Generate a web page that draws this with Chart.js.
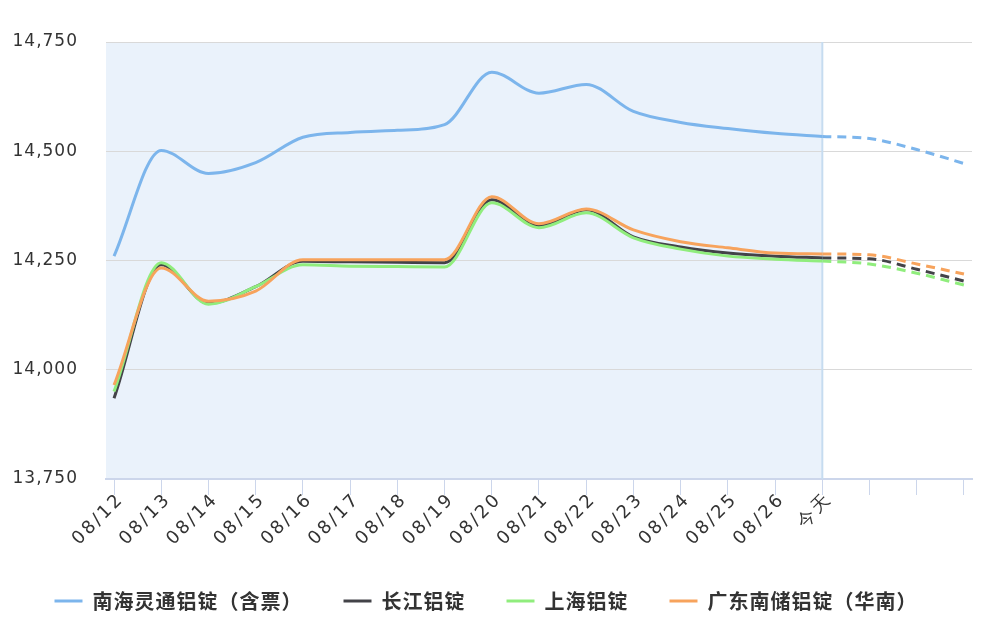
<!DOCTYPE html>
<html>
<head>
<meta charset="utf-8">
<script src="https://cdn.jsdelivr.net/npm/chart.js@4.4.1/dist/chart.umd.min.js"></script>
<style>
  html, body { margin: 0; padding: 0; background: #fff; }
  #wrap { width: 1000px; height: 625px; }
</style>
</head>
<body>
<div id="wrap"><canvas id="priceChart"></canvas></div>
<script>
// ── 数据 ─────────────────────────────────────────────────────────────
var labels = ["08/12", "08/13", "08/14", "08/15", "08/16", "08/17", "08/18", "08/19",
              "08/20", "08/21", "08/22", "08/23", "08/24", "08/25", "08/26", "今天", "", "", ""];
var todayIdx = 15;
var yTicks = [13750, 14000, 14250, 14500, 14750];

var names = ["南海灵通铝锭（含票）", "长江铝锭", "上海铝锭", "广东南储铝锭（华南）"];
var colors = ["#7cb5ec", "#434348", "#90ed7d", "#f7a35c"];

// 实际 08/12 ~ 今天
var nanhai     = [14260, 14502, 14449, 14474, 14532, 14543, 14548, 14561, 14681, 14633, 14653, 14591, 14566, 14552, 14541, 14534];
var changjiang = [13935, 14240, 14152, 14190, 14248, 14247, 14246, 14245, 14389, 14329, 14366, 14304, 14281, 14267, 14260, 14256];
var shanghai   = [13950, 14245, 14150, 14190, 14240, 14237, 14236, 14235, 14382, 14325, 14359, 14302, 14276, 14260, 14253, 14249];
var guangdong  = [13965, 14233, 14157, 14180, 14252, 14252, 14252, 14252, 14396, 14334, 14368, 14320, 14293, 14279, 14267, 14265];

// 预测 今天 ~ 之后3天
var nanhaiFc     = [14534, 14529, 14504, 14472];
var changjiangFc = [14256, 14254, 14230, 14203];
var shanghaiFc   = [14249, 14242, 14221, 14194];
var guangdongFc  = [14265, 14263, 14242, 14219];

// ── 图表 ─────────────────────────────────────────────────────────────
function pts(arr, start) {
  return arr.map(function(v, i) { return { x: start + i, y: v }; });
}

var actualSets = [nanhai, changjiang, shanghai, guangdong];
var fcSets     = [nanhaiFc, changjiangFc, shanghaiFc, guangdongFc];

var datasets = [];
actualSets.forEach(function(arr, k) {
  datasets.push({
    label: names[k], data: pts(arr, 0),
    borderColor: colors[k], backgroundColor: colors[k],
    borderWidth: 3, pointRadius: 0, cubicInterpolationMode: "monotone",
    fill: false, order: 10 - k
  });
});
fcSets.forEach(function(arr, k) {
  datasets.push({
    label: names[k] + "_fc", data: pts(arr, todayIdx),
    borderColor: colors[k], backgroundColor: colors[k],
    borderWidth: 3, borderDash: [9, 6], pointRadius: 0, cubicInterpolationMode: "monotone",
    fill: false, order: 10 - k
  });
});

// 今天之前的底色 + 今天竖线
var bandPlugin = {
  id: "todayBand",
  beforeDraw: function(chart) {
    var a = chart.chartArea, xs = chart.scales.x, ctx = chart.ctx;
    var xr = xs.getPixelForValue(todayIdx);
    ctx.save();
    ctx.fillStyle = "#eaf2fb";
    ctx.fillRect(a.left, a.top, xr - a.left, a.bottom - a.top);
    ctx.restore();
  },
  beforeDatasetsDraw: function(chart) {
    var a = chart.chartArea, xs = chart.scales.x, ctx = chart.ctx;
    var xr = xs.getPixelForValue(todayIdx);
    ctx.save();
    ctx.strokeStyle = "#c6dcf0";
    ctx.lineWidth = 2;
    ctx.beginPath();
    ctx.moveTo(xr, a.top);
    ctx.lineTo(xr, a.bottom);
    ctx.stroke();
    ctx.restore();
  }
};

// 字间距（原图文字较宽）
var spacing = { x: "2.5px", y: "1px", legend: "1px" };
function withSpacing(obj, fn, sp) {
  var orig = obj[fn];
  obj[fn] = function() {
    var c = this.ctx, prev = c.letterSpacing;
    c.letterSpacing = sp;
    var r = orig.apply(this, arguments);
    c.letterSpacing = prev;
    return r;
  };
}
var spacingPlugin = {
  id: "spacing",
  afterInit: function(chart) {
    withSpacing(chart.legend, "fit", spacing.legend);
    withSpacing(chart.legend, "draw", spacing.legend);
  },
  afterLayout: function(chart) {
    // x 轴标签区域放大，避免斜体标签被裁切
    var xs = chart.scales.x;
    xs.bottom = xs.top + 100;
  },
  afterUpdate: function(chart) {
    ["x", "y"].forEach(function(id) {
      var s = chart.scales[id];
      if (s._spaced) return;
      withSpacing(s, "drawLabels", spacing[id]);
      s._spaced = true;
    });
  }
};

new Chart(document.getElementById("priceChart").getContext("2d"), {
  type: "line",
  data: { datasets: datasets },
  plugins: [bandPlugin, spacingPlugin],
  options: {
    responsive: true, maintainAspectRatio: false, animation: false,
    layout: { padding: { left: 0, right: 28, top: 42, bottom: 4 } },
    plugins: {
      tooltip: { enabled: false },
      legend: {
        position: "bottom",
        labels: {
          boxWidth: 28, boxHeight: 3, padding: 41, color: "#333",
          font: { family: "'Noto Sans CJK SC', sans-serif", size: 20, weight: "bold" },
          filter: function(item) { return item.datasetIndex < 4; },
          sort: function(a, b) { return a.datasetIndex - b.datasetIndex; },
          generateLabels: function(chart) {
            var items = Chart.defaults.plugins.legend.labels.generateLabels(chart);
            items.forEach(function(it) { it.lineWidth = 0; it.lineDash = []; });
            return items;
          }
        }
      }
    },
    scales: {
      x: {
        type: "linear", min: -0.17, max: 18.17,
        afterBuildTicks: function(s) { s.ticks = labels.map(function(_, i) { return { value: i }; }); },
        afterFit: function(s) { s.height = 71; },
        border: { display: true, color: "#ccd6eb", width: 2 },
        grid: { drawOnChartArea: false, drawTicks: true, tickLength: 16, color: "#ccd6eb" },
        ticks: {
          autoSkip: false, minRotation: 45, maxRotation: 45, padding: -6, labelOffset: 7, color: "#333",
          font: { family: "'DejaVu Sans', sans-serif", size: 18 },
          callback: function(v) { return labels[v]; }
        }
      },
      y: {
        min: 13750, max: 14750,
        afterBuildTicks: function(s) { s.ticks = yTicks.map(function(v) { return { value: v }; }); },
        afterFit: function(s) { s.width = 106; },
        border: { display: false },
        grid: { color: "#d9d9d9", drawTicks: false },
        ticks: {
          padding: 28, color: "#333",
          font: { family: "'DejaVu Sans', sans-serif", size: 17 },
          callback: function(v) { return v.toLocaleString("en-US"); }
        }
      }
    }
  }
});
</script>
</body>
</html>
